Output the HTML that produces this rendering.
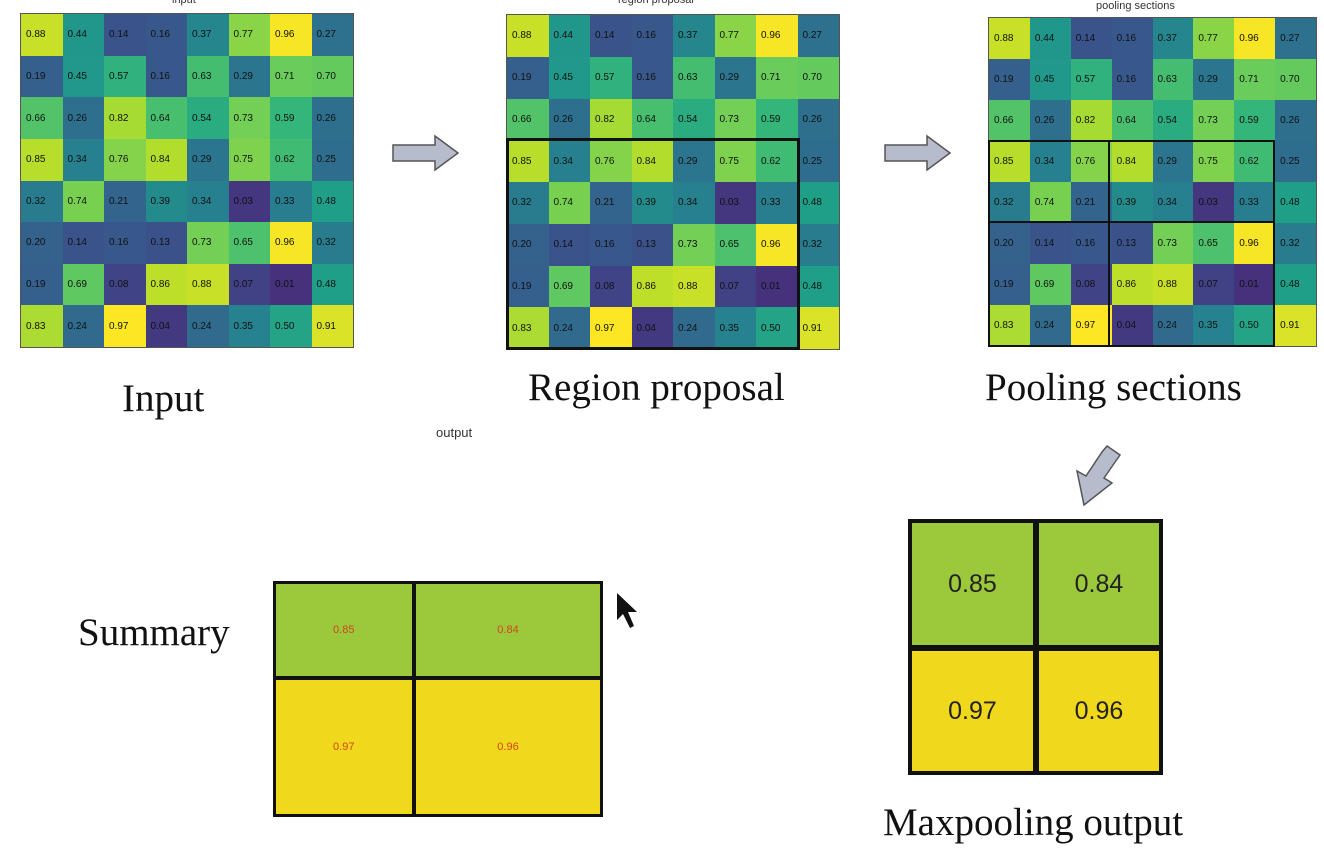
<!DOCTYPE html>
<html><head><meta charset="utf-8"><style>
body{margin:0;width:1324px;height:848px;background:#fff;position:relative;overflow:hidden;font-family:"Liberation Sans",sans-serif}
.lbl{position:absolute;font-family:"Liberation Serif",serif;font-size:39px;color:#111;white-space:nowrap}
.ttl{position:absolute;font-size:11px;color:#333;white-space:nowrap}
.grid{position:absolute;display:grid;grid-template-columns:repeat(8,1fr);grid-template-rows:repeat(8,1fr);border:1px solid #555;box-sizing:border-box}
.grid div{display:flex;align-items:center;justify-content:flex-start;padding-left:5px;font-size:10px;color:#111;filter:blur(0.3px)}
.box{position:absolute;border:3px solid #111;box-sizing:border-box}
.cell{position:absolute;display:flex;align-items:center;justify-content:center;box-sizing:border-box}
</style></head><body>
<div class="ttl" style="left:172px;top:-6px">input</div>
<div class="ttl" style="left:618px;top:-6px">region proposal</div>
<div class="ttl" style="left:1096px;top:0px">pooling sections</div>
<div id="g1" class="grid" style="left:20px;top:13px;width:334px;height:335px"></div>
<div id="g2" class="grid" style="left:506px;top:14px;width:334px;height:336px"></div>
<div id="g3" class="grid" style="left:988px;top:17px;width:329px;height:330px"></div>
<div class="box" style="left:506px;top:138px;width:294px;height:212px"></div>
<div class="box" style="left:988px;top:140px;width:287px;height:207px;border-width:2px"></div>
<div style="position:absolute;left:1108px;top:140px;width:2px;height:207px;background:#111"></div>
<div style="position:absolute;left:988px;top:221px;width:287px;height:2px;background:#111"></div>
<svg style="position:absolute;left:0;top:0" width="1324" height="848">
<polygon points="393,145 435,145 435,136 458,153 435,170 435,161 393,161" fill="#b7bccd" stroke="#555" stroke-width="1.5"/>
<polygon points="885,145 927,145 927,136 950,153 927,170 927,161 885,161" fill="#b7bccd" stroke="#555" stroke-width="1.5"/>
<polygon points="1107,446 1120,455 1104,478 1112,483 1084,505 1077,471 1086,476 1102,452" fill="#b7bccd" stroke="#555" stroke-width="1.5"/>
<polygon points="617,593 617,620 623,614 630,628 634,626 628,612 637,612" fill="#111"/>
</svg>
<div class="lbl" style="left:122px;top:376px">Input</div>
<div class="lbl" style="left:528px;top:365px">Region proposal</div>
<div class="lbl" style="left:985px;top:365px">Pooling sections</div>
<div class="ttl" style="left:436px;top:425px;font-size:13px">output</div>
<div class="lbl" style="left:78px;top:610px">Summary</div>
<div class="lbl" style="left:883px;top:800px">Maxpooling output</div>
<div id="sum" style="position:absolute;left:273px;top:581px;width:330px;height:236px"></div>
<div id="mp" style="position:absolute;left:908px;top:519px;width:255px;height:256px"></div>
<script>
const rows=["r0","r1","r2","r3","r4","r5","r6","r7"];
const values=[
[0.88,0.44,0.14,0.16,0.37,0.77,0.96,0.27],
[0.19,0.45,0.57,0.16,0.63,0.29,0.71,0.70],
[0.66,0.26,0.82,0.64,0.54,0.73,0.59,0.26],
[0.85,0.34,0.76,0.84,0.29,0.75,0.62,0.25],
[0.32,0.74,0.21,0.39,0.34,0.03,0.33,0.48],
[0.20,0.14,0.16,0.13,0.73,0.65,0.96,0.32],
[0.19,0.69,0.08,0.86,0.88,0.07,0.01,0.48],
[0.83,0.24,0.97,0.04,0.24,0.35,0.50,0.91]];
const pooled=[[0.85,0.84],[0.97,0.96]];
const stops=[[68,1,84],[72,40,120],[62,74,137],[49,104,142],[38,130,142],[31,158,137],[53,183,121],[110,206,88],[181,222,43],[253,231,37]];
function vir(v){v=Math.max(0,Math.min(1,v))*9;const i=Math.min(8,Math.floor(v)),f=v-i,a=stops[i],b=stops[i+1];
return `rgb(${a.map((c,k)=>Math.round(c+(b[k]-c)*f)).join(',')})`;}
function norm(v){return 0.14+0.86*(v-0.01)/(0.97-0.01)}
['g1','g2','g3'].forEach(id=>{const g=document.getElementById(id);
values.forEach((row,r)=>row.forEach((v,c)=>{const d=document.createElement('div');


d.style.background=vir(norm(v));d.textContent=v.toFixed(2);g.appendChild(d);}));});
function bigColor(v){return v>0.9?'#f0d81c':'#9cc83c';}
function big(id,w,h,sx,sy,fs,col,bw){const p=document.getElementById(id);
const xs=[0,sx,w],ys=[0,sy,h];
pooled.forEach((row,r)=>row.forEach((v,c)=>{const d=document.createElement('div');d.className='cell';


d.style.left=xs[c]+'px';d.style.top=ys[r]+'px';d.style.width=(xs[c+1]-xs[c]+(c==0?bw/2:0))+'px';d.style.height=(ys[r+1]-ys[r]+(r==0?bw/2:0))+'px';
d.style.border=bw+'px solid #111';d.style.background=bigColor(v);d.style.fontSize=fs+'px';d.style.color=col;d.textContent=v.toFixed(2);p.appendChild(d);}));}
big('sum',330,236,140,96,11,'#d2451e',3);
big('mp',255,256,127,128,25,'#222',4);
</script>
</body></html>
